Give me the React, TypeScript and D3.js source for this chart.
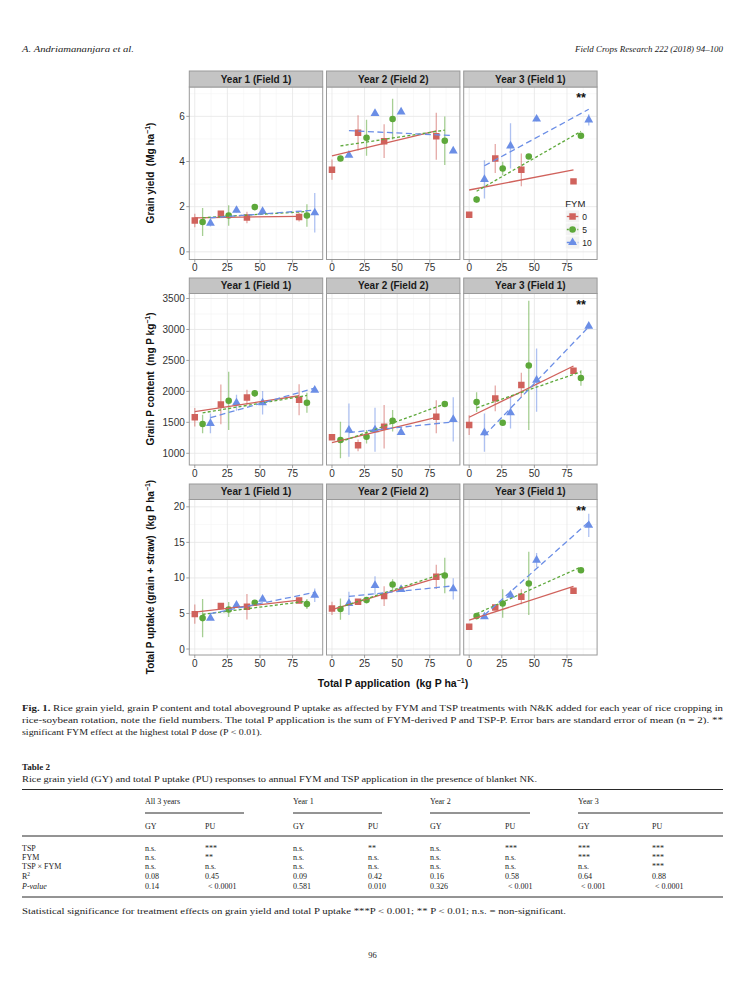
import React from "react";
import * as d3 from "d3";

// ---------- DATA ----------
const years = ["Year 1 (Field 1)", "Year 2 (Field 2)", "Year 3 (Field 1)"];
const fymLevels = ["0", "5", "10"];
const tspDoses = [0, 20, 40, 80];
// FYM-derived P (kg P/ha) by year and FYM level
const fymDerivedP = [
  [0, 6, 12],
  [0, 6.5, 13],
  [0, 5.7, 11.7],
];

// Grain yield (Mg/ha) [year][fym][tsp dose]
const yieldMean = [
  [[1.39, 1.69, 1.52, 1.54], [1.32, 1.61, 1.98, 1.61], [1.27, 1.84, 1.79, 1.73]],
  [[3.64, 5.27, 4.9, 5.12], [4.13, 5.05, 5.88, 4.92], [4.28, 6.13, 6.2, 4.47]],
  [[1.64, 4.13, 3.63, 3.12], [2.32, 3.69, 4.22, 5.14], [3.21, 4.69, 5.88, 5.84]],
];
const yieldSE = [
  [[0.3, 0.1, 0.25, 0.2], [0.62, 0.45, 0.05, 0.5], [0.15, 0.1, 0.1, 0.87]],
  [[0.45, 0.78, 0.75, 1.04], [0.1, 0.8, 0.9, 1.07], [0.05, 0.05, 0.05, 0.05]],
  [[0.1, 0.64, 0.73, 0.1], [0.15, 0.3, 0.1, 0.1], [0.85, 1.0, 0.1, 0.25]],
];

// Grain P content (mg P/kg)
const pContentMean = [
  [[1581, 1790, 1903, 1865], [1473, 1848, 1968, 1816], [1484, 1816, 1816, 2021]],
  [[1258, 1129, 1429, 1590], [1215, 1268, 1526, 1795], [1376, 1380, 1338, 1548]],
  [[1456, 1887, 2102, 2333], [1827, 1494, 2419, 2215], [1333, 1655, 2182, 3053]],
];
const pContentSE = [
  [[150, 320, 125, 250], [150, 470, 50, 160], [160, 130, 190, 30]],
  [[40, 95, 350, 265], [295, 110, 175, 40], [430, 355, 20, 358]],
  [[160, 207, 200, 50], [160, 40, 1043, 125], [310, 255, 510, 40]],
];

// Total P uptake (kg P/ha)
const uptakeMean = [
  [[4.91, 6.04, 5.94, 6.83], [4.35, 5.57, 6.5, 6.32], [4.35, 6.18, 7.02, 7.58]],
  [[5.71, 6.64, 7.44, 10.15], [5.62, 6.88, 9.08, 10.34], [6.41, 8.94, 8.38, 8.47]],
  [[3.13, 5.85, 7.35, 8.19], [4.63, 6.41, 9.22, 11.09], [4.54, 7.58, 12.5, 17.4]],
];
const uptakeSE = [
  [[1.35, 0.4, 1.8, 0.4], [2.7, 1.05, 0.2, 0.7], [0.2, 0.3, 0.2, 0.95]],
  [[0.94, 0.3, 1.4, 1.7], [1.5, 0.2, 0.75, 2.5], [1.64, 1.3, 0.2, 1.5]],
  [[0.2, 0.2, 1.05, 0.2], [0.2, 2.0, 4.45, 0.2], [0.2, 0.3, 1.0, 1.64]],
];

const xTicks = [0, 25, 50, 75];
const yieldTicks = [0, 2, 4, 6];
const pContentTicks = [1000, 1500, 2000, 2500, 3000, 3500];
const uptakeTicks = [0, 5, 10, 15, 20];

const tableGroups = ["All 3 years", "Year 1", "Year 2", "Year 3"];
const tableSub = ["GY", "PU"];
const tableRowLabels = ["TSP", "FYM", "TSP × FYM", "R²", "P-value"];
const tableValues = [
  ["n.s.", "***", "n.s.", "**", "n.s.", "***", "***", "***"],
  ["n.s.", "**", "n.s.", "n.s.", "n.s.", "n.s.", "***", "***"],
  ["n.s.", "n.s.", "n.s.", "n.s.", "n.s.", "n.s.", "n.s.", "***"],
  ["0.08", "0.45", "0.09", "0.42", "0.16", "0.58", "0.64", "0.88"],
  ["0.14", "< 0.0001", "0.581", "0.010", "0.326", "< 0.001", "< 0.001", "< 0.0001"],
];

// ---------- LAYOUT / STYLE ----------
const W = 745;
const H = 993;
const colLeft = [189.3, 326.5, 463.7];
const panelW = 133.4;
const xDomain = [-4.2, 98.1];
const rowGeo = [
  { stripTop: 71, top: 87, bottom: 259.5, domain: [-0.34, 7.3] },
  { stripTop: 278, top: 293.5, bottom: 465, domain: [811, 3581] },
  { stripTop: 484, top: 499.5, bottom: 655, domain: [-0.84, 21.03] },
];
const rowsData = [
  { mean: yieldMean, se: yieldSE, ticks: yieldTicks },
  { mean: pContentMean, se: pContentSE, ticks: pContentTicks },
  { mean: uptakeMean, se: uptakeSE, ticks: uptakeTicks },
];
const colors = ["#D0625C", "#5DA83A", "#6B8EE6"];
const dashes = ["none", "3,2.2", "6,3.5"];
const symbols = [
  d3.symbol().type(d3.symbolSquare).size(42)(),
  d3.symbol().type(d3.symbolCircle).size(34)(),
  d3.symbol().type(d3.symbolTriangle).size(34)(),
];
const sans = "Liberation Sans, Arial, Helvetica, sans-serif";
const serif = "Liberation Serif, Times New Roman, serif";

function linFit(xs: number[], ys: number[]) {
  const mx = d3.mean(xs) as number;
  const my = d3.mean(ys) as number;
  let sxy = 0;
  let sxx = 0;
  xs.forEach((x, i) => {
    sxy += (x - mx) * (ys[i] - my);
    sxx += (x - mx) * (x - mx);
  });
  const b = sxy / sxx;
  return (x: number) => my + b * (x - mx);
}

function Panel({ r, c }: { r: number; c: number }) {
  const g = rowGeo[r];
  const rd = rowsData[r];
  const left = colLeft[c];
  const x = d3.scaleLinear().domain(xDomain).range([left, left + panelW]);
  const y = d3.scaleLinear().domain(g.domain).range([g.bottom, g.top]);
  const minorX = xTicks.map((t) => t + 12.5).filter((t) => t > xDomain[0] && t < xDomain[1]);
  const step = rd.ticks[1] - rd.ticks[0];
  const minorY = rd.ticks
    .map((t) => t + step / 2)
    .concat([rd.ticks[0] - step / 2])
    .filter((t) => t > g.domain[0] && t < g.domain[1]);
  const clipId = `clip-${r}-${c}`;
  return (
    <g>
      <defs>
        <clipPath id={clipId}>
          <rect x={left} y={g.top} width={panelW} height={g.bottom - g.top} />
        </clipPath>
      </defs>
      <rect x={left} y={g.top} width={panelW} height={g.bottom - g.top} fill="#fff" />
      {minorX.map((t) => (
        <line key={"mx" + t} x1={x(t)} x2={x(t)} y1={g.top} y2={g.bottom} stroke="#F3F3F3" strokeWidth={0.6} />
      ))}
      {minorY.map((t) => (
        <line key={"my" + t} x1={left} x2={left + panelW} y1={y(t)} y2={y(t)} stroke="#F3F3F3" strokeWidth={0.6} />
      ))}
      {xTicks.map((t) => (
        <line key={"gx" + t} x1={x(t)} x2={x(t)} y1={g.top} y2={g.bottom} stroke="#E6E6E6" strokeWidth={0.8} />
      ))}
      {rd.ticks.map((t) => (
        <line key={"gy" + t} x1={left} x2={left + panelW} y1={y(t)} y2={y(t)} stroke="#E6E6E6" strokeWidth={0.8} />
      ))}
      <g clipPath={`url(#${clipId})`}>
        {fymLevels.map((_, f) =>
          tspDoses.map((d, i) => {
            const xv = d + fymDerivedP[c][f];
            const m = rd.mean[c][f][i];
            const s = rd.se[c][f][i];
            return (
              <line
                key={`e${f}-${i}`}
                x1={x(xv)}
                x2={x(xv)}
                y1={y(m - s)}
                y2={y(m + s)}
                stroke={colors[f]}
                strokeOpacity={0.55}
                strokeWidth={1.3}
              />
            );
          })
        )}
        {fymLevels.map((_, f) =>
          tspDoses.map((d, i) => {
            const xv = d + fymDerivedP[c][f];
            const m = rd.mean[c][f][i];
            return (
              <path
                key={`p${f}-${i}`}
                d={symbols[f]}
                transform={`translate(${x(xv)},${y(m)})`}
                fill={colors[f]}
              />
            );
          })
        )}
        {fymLevels.map((_, f) => {
          const xs = tspDoses.map((d) => d + fymDerivedP[c][f]);
          const fn = linFit(xs, rd.mean[c][f]);
          const x0 = xs[0];
          const x1 = xs[xs.length - 1];
          return (
            <line
              key={`l${f}`}
              x1={x(x0)}
              x2={x(x1)}
              y1={y(fn(x0))}
              y2={y(fn(x1))}
              stroke={colors[f]}
              strokeWidth={1.3}
              strokeDasharray={dashes[f]}
            />
          );
        })}
      </g>
      <rect x={left} y={g.top} width={panelW} height={g.bottom - g.top} fill="none" stroke="#9A9A9A" strokeWidth={1} />
      {/* strip */}
      <rect x={left} y={g.stripTop} width={panelW} height={g.top - g.stripTop} fill="#C4C4C4" stroke="#9A9A9A" strokeWidth={1} />
      <text
        x={left + panelW / 2}
        y={(g.stripTop + g.top) / 2 + 3.6}
        textAnchor="middle"
        fontFamily={sans}
        fontWeight="bold"
        fontSize={10}
        fill="#1A1A1A"
      >
        {years[c]}
      </text>
      {/* x axis */}
      {xTicks.map((t) => (
        <g key={"xt" + t}>
          <line x1={x(t)} x2={x(t)} y1={g.bottom} y2={g.bottom + 3} stroke="#8A8A8A" strokeWidth={0.8} />
          <text x={x(t)} y={g.bottom + 11.5} textAnchor="middle" fontFamily={sans} fontSize={10} fill="#333">
            {t}
          </text>
        </g>
      ))}
      {/* y axis only first column */}
      {c === 0 &&
        rd.ticks.map((t) => (
          <g key={"yt" + t}>
            <line x1={left - 3} x2={left} y1={y(t)} y2={y(t)} stroke="#8A8A8A" strokeWidth={0.8} />
            <text x={left - 4.5} y={y(t) + 3.5} textAnchor="end" fontFamily={sans} fontSize={10} fill="#333">
              {t}
            </text>
          </g>
        ))}
      {c === 2 && (
        <text x={left + panelW - 16} y={g.top + 15} textAnchor="middle" fontFamily={sans} fontWeight="bold" fontSize={12.5} fill="#111">
          **
        </text>
      )}
    </g>
  );
}

function Legend() {
  const lx = 565.3;
  const ly = 210;
  const kh = 13;
  return (
    <g>
      <text x={lx} y={ly - 3} fontFamily={sans} fontSize={9.5} fill="#222">
        FYM
      </text>
      {fymLevels.map((lab, f) => (
        <g key={lab}>
          <rect x={lx} y={ly + f * kh} width={14.5} height={kh} fill="#F2F2F2" stroke="#FFFFFF" strokeWidth={0.8} />
          <line
            x1={lx + 1.5}
            x2={lx + 13}
            y1={ly + f * kh + kh / 2}
            y2={ly + f * kh + kh / 2}
            stroke={colors[f]}
            strokeWidth={1.3}
            strokeDasharray={dashes[f] === "none" ? "none" : f === 1 ? "2,1.5" : "3.5,2"}
          />
          <path d={symbols[f]} transform={`translate(${lx + 7.25},${ly + f * kh + kh / 2})`} fill={colors[f]} />
          <text x={lx + 17} y={ly + f * kh + kh / 2 + 3} fontFamily={sans} fontSize={8.5} fill="#222">
            {lab}
          </text>
        </g>
      ))}
    </g>
  );
}

function YTitle({ cx, cy, main, unitA, unitB }: { cx: number; cy: number; main: string; unitA: string; unitB: string }) {
  return (
    <text
      transform={`translate(${cx},${cy}) rotate(-90)`}
      textAnchor="middle"
      fontFamily={sans}
      fontWeight="bold"
      fontSize={10}
      fill="#111"
      style={{ whiteSpace: "pre" }}
    >
      {main}
      <tspan>{unitA}</tspan>
      <tspan dy={-4} fontSize={7}>
        −1
      </tspan>
      <tspan dy={4}>{unitB}</tspan>
    </text>
  );
}

export default function App() {
  const tableX = [145, 205, 293, 368, 430, 505, 578, 652];
  const groupRuleX = [
    [145, 244],
    [293, 382],
    [430, 530],
    [578, 723],
  ];
  const rowY = [850.5, 859.5, 868.5, 878.5, 888.5];
  const fs = 9.2;
  return (
    <svg
      width={W}
      height={H}
      viewBox={`0 0 ${W} ${H}`}
      style={{ position: "absolute", left: 0, top: 0, background: "#fff" }}
    >
      <rect x={0} y={0} width={W} height={H} fill="#fff" />
      {/* running header */}
      <text x={22} y={52} fontFamily={serif} fontStyle="italic" fontSize={8.5} fill="#222" textLength={112} lengthAdjust="spacingAndGlyphs">
        A. Andriamananjara et al.
      </text>
      <text x={575} y={52} fontFamily={serif} fontStyle="italic" fontSize={8.5} fill="#222" textLength={148} lengthAdjust="spacingAndGlyphs">
        Field Crops Research 222 (2018) 94–100
      </text>

      {/* chart */}
      {rowGeo.map((_, r) => years.map((__, c) => <Panel key={`${r}-${c}`} r={r} c={c} />))}
      <Legend />
      <YTitle cx={154} cy={173} main="Grain yield  " unitA="(Mg ha" unitB=")" />
      <YTitle cx={154} cy={379} main="Grain P content  " unitA="(mg P kg" unitB=")" />
      <YTitle cx={154} cy={577} main="Total P uptake (grain + straw)  " unitA="(kg P ha" unitB=")" />
      <text x={393} y={687} textAnchor="middle" fontFamily={sans} fontWeight="bold" fontSize={10.5} fill="#111" style={{ whiteSpace: "pre" }}>
        {"Total P application  (kg P ha"}
        <tspan dy={-4} fontSize={7}>
          −1
        </tspan>
        <tspan dy={4}>)</tspan>
      </text>

      {/* figure caption */}
      <text x={22} y={711} fontFamily={serif} fontSize={fs} fill="#222" textLength={701} lengthAdjust="spacingAndGlyphs">
        <tspan fontWeight="bold">Fig. 1.</tspan> Rice grain yield, grain P content and total aboveground P uptake as affected by FYM and TSP treatments with N&amp;K added for each year of rice cropping in
      </text>
      <text x={22} y={723} fontFamily={serif} fontSize={fs} fill="#222" textLength={701} lengthAdjust="spacingAndGlyphs">
        rice-soybean rotation, note the field numbers. The total P application is the sum of FYM-derived P and TSP-P. Error bars are standard error of mean (n = 2). **
      </text>
      <text x={22} y={734.5} fontFamily={serif} fontSize={fs} fill="#222" textLength={240} lengthAdjust="spacingAndGlyphs">
        significant FYM effect at the highest total P dose (P &lt; 0.01).
      </text>

      {/* table */}
      <text x={22} y={770} fontFamily={serif} fontWeight="bold" fontSize={fs} fill="#222" textLength={28} lengthAdjust="spacingAndGlyphs">
        Table 2
      </text>
      <text x={22} y={782} fontFamily={serif} fontSize={fs} fill="#222" textLength={515} lengthAdjust="spacingAndGlyphs">
        Rice grain yield (GY) and total P uptake (PU) responses to annual FYM and TSP application in the presence of blanket NK.
      </text>
      <line x1={22} x2={723} y1={789.5} y2={789.5} stroke="#111" strokeWidth={0.9} />
      {tableGroups.map((gname, i) => (
        <text key={gname} x={tableX[i * 2]} y={803.5} fontFamily={serif} fontSize={8} fill="#222">
          {gname}
        </text>
      ))}
      {groupRuleX.map(([a, b], i) => (
        <line key={"gr" + i} x1={a} x2={b} y1={813} y2={813} stroke="#111" strokeWidth={0.9} />
      ))}
      {tableX.map((tx, i) => (
        <text key={"sub" + i} x={tx} y={828.5} fontFamily={serif} fontSize={8} fill="#222">
          {tableSub[i % 2]}
        </text>
      ))}
      <line x1={22} x2={723} y1={836} y2={836} stroke="#111" strokeWidth={0.9} />
      {tableRowLabels.map((lab, ri) => (
        <g key={lab}>
          {ri === 3 ? (
            <text x={22} y={rowY[ri]} fontFamily={serif} fontSize={8} fill="#222">
              R<tspan dy={-3} fontSize={5.5}>2</tspan>
            </text>
          ) : (
            <text x={22} y={rowY[ri]} fontFamily={serif} fontSize={8} fontStyle={ri === 4 ? "italic" : "normal"} fill="#222">
              {lab}
            </text>
          )}
          {tableValues[ri].map((v, ci) => (
            <text
              key={ci}
              x={tableX[ci] + (v.startsWith("<") ? 3 : 0)}
              y={rowY[ri]}
              fontFamily={serif}
              fontSize={8}
              fill="#222"
            >
              {v}
            </text>
          ))}
        </g>
      ))}
      <line x1={22} x2={723} y1={897} y2={897} stroke="#111" strokeWidth={0.9} />
      <text x={22} y={914} fontFamily={serif} fontSize={fs} fill="#222" textLength={544} lengthAdjust="spacingAndGlyphs">
        Statistical significance for treatment effects on grain yield and total P uptake ***P &lt; 0.001; ** P &lt; 0.01; n.s. = non-significant.
      </text>

      {/* page number */}
      <text x={372.5} y={958} textAnchor="middle" fontFamily={serif} fontSize={8.5} fill="#222">
        96
      </text>
    </svg>
  );
}
